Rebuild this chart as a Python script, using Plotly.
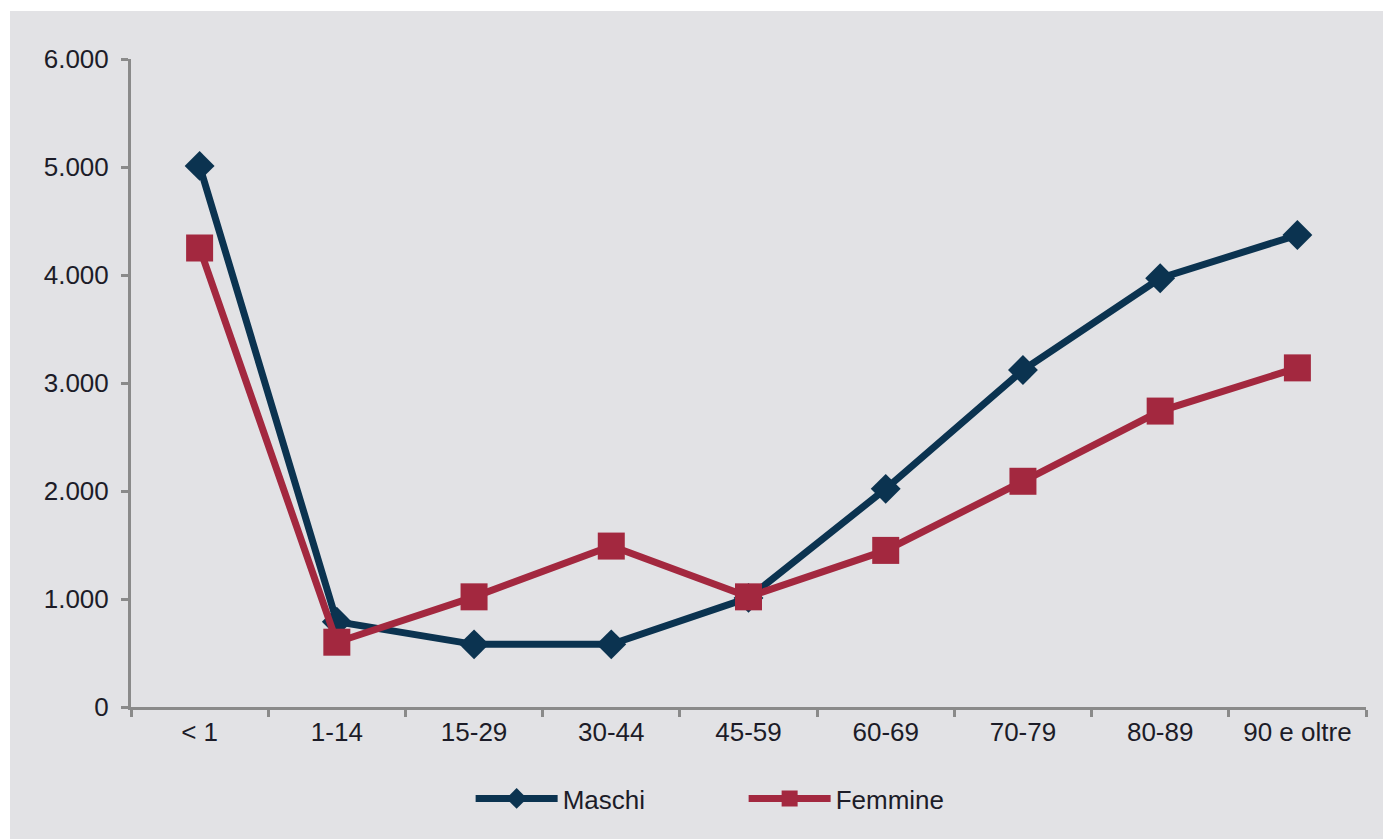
import plotly.graph_objects as go

categories = ["< 1", "1-14", "15-29", "30-44", "45-59", "60-69", "70-79", "80-89", "90 e oltre"]
maschi = [5010, 790, 580, 580, 1010, 2020, 3120, 3970, 4370]
femmine = [4250, 600, 1020, 1490, 1020, 1450, 2090, 2740, 3140]
y_ticks = [0, 1000, 2000, 3000, 4000, 5000, 6000]

NAVY = "#0b3350"
RED = "#a3283f"
BG = "#e2e2e5"
TXT = "#1c1c28"
AX = "#8a8a8a"

fig = go.Figure()
fig.add_trace(go.Scatter(
    x=categories, y=maschi, name="Maschi", mode="lines+markers",
    line=dict(color=NAVY, width=7),
    marker=dict(symbol="diamond", size=23, color=NAVY),
))
fig.add_trace(go.Scatter(
    x=categories, y=femmine, name="Femmine", mode="lines+markers",
    line=dict(color=RED, width=7),
    marker=dict(symbol="square", size=27, color=RED),
))

fig.add_shape(type="rect", xref="paper", yref="paper",
              x0=(10 - 131) / 1235, x1=(1383 - 131) / 1235 + 0.01,
              y0=-132 / 648 - 0.01, y1=(707 - 11) / 648,
              fillcolor=BG, line=dict(width=0), layer="below")

fig.update_layout(
    width=1383, height=839,
    margin=dict(l=131, r=17, t=59, b=132),
    paper_bgcolor="white",
    plot_bgcolor=BG,
    separators=",.",
    font=dict(family="Liberation Sans, Arial, sans-serif", size=26, color=TXT),
    showlegend=True,
    legend=dict(orientation="h", x=0.275, xanchor="left", y=-0.105, yanchor="top",
                bgcolor="rgba(0,0,0,0)", itemwidth=82, entrywidth=176,
                font=dict(size=26, color=TXT)),
)
fig.update_xaxes(
    type="category", range=[-0.5, 8.5],
    showline=True, linecolor=AX, linewidth=3,
    ticks="outside", tickson="boundaries", ticklen=7, tickwidth=3, tickcolor=AX,
    showgrid=False, zeroline=False,
    tickfont=dict(size=26, color=TXT),
)
fig.update_yaxes(
    range=[0, 6000], tickvals=y_ticks, tickformat=",d",
    showline=True, linecolor=AX, linewidth=3,
    ticks="outside", ticklen=7, tickwidth=3, tickcolor=AX,
    showgrid=False, zeroline=False,
    tickfont=dict(size=26, color=TXT), ticklabelstandoff=7,
)

fig.write_html("out.html")
